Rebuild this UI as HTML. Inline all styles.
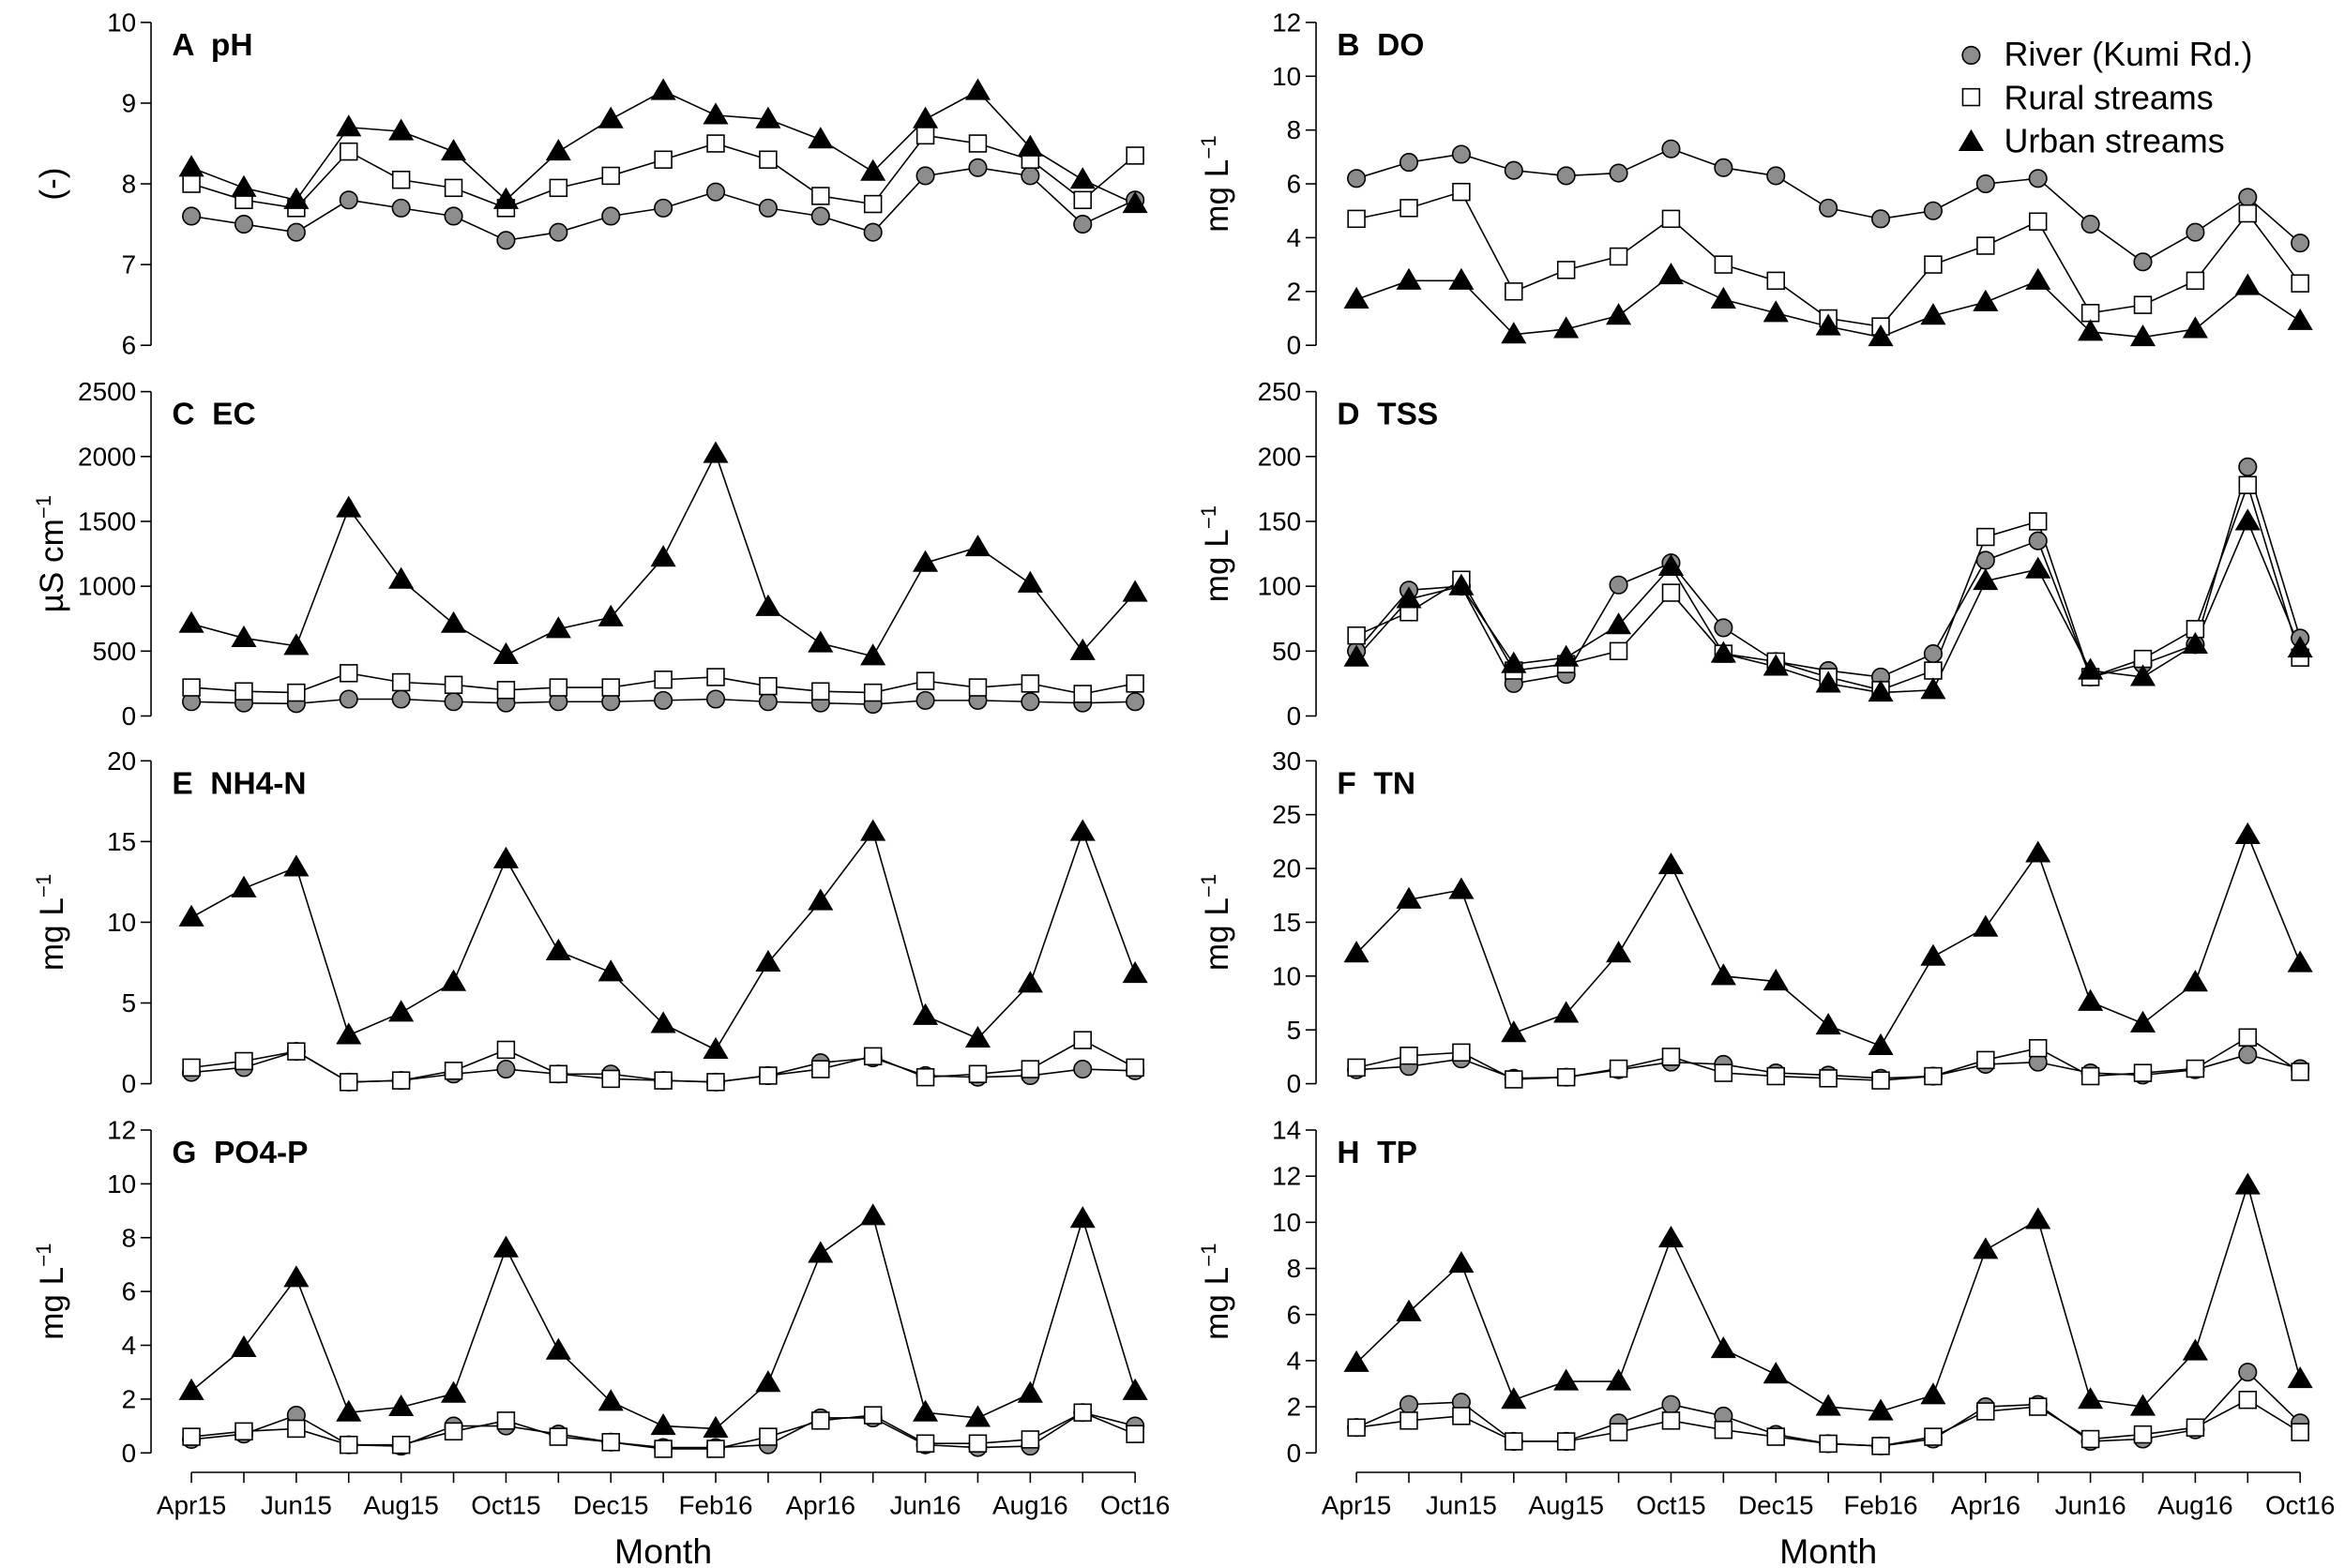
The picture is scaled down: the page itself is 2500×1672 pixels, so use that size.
<!DOCTYPE html>
<html><head><meta charset="utf-8">
<style>
html,body{margin:0;padding:0;background:#fff;}
svg{display:block;}
text{font-family:"Liberation Sans",Arial,sans-serif;fill:#000;}
</style></head>
<body>
<svg id="s" width="2500" height="1672" viewBox="0 0 1568 1049" preserveAspectRatio="none" xmlns="http://www.w3.org/2000/svg"></svg>
<script>
const S=document.getElementById('s');
let h='';
const P=[
 {lab:'A  pH',col:0,y0:231,y1:15,min:6,max:10,step:1,yt:'(-)',
  d:[[7.6,7.5,7.4,7.8,7.7,7.6,7.3,7.4,7.6,7.7,7.9,7.7,7.6,7.4,8.1,8.2,8.1,7.5,7.8],
     [8.0,7.8,7.7,8.4,8.05,7.95,7.7,7.95,8.1,8.3,8.5,8.3,7.85,7.75,8.6,8.5,8.3,7.8,8.35],
     [8.2,7.95,7.8,8.7,8.65,8.4,7.8,8.4,8.8,9.15,8.85,8.8,8.55,8.15,8.8,9.15,8.45,8.05,7.75]]},
 {lab:'B  DO',col:1,y0:231,y1:15,min:0,max:12,step:2,yt:'mg',
  d:[[6.2,6.8,7.1,6.5,6.3,6.4,7.3,6.6,6.3,5.1,4.7,5.0,6.0,6.2,4.5,3.1,4.2,5.5,3.8],
     [4.7,5.1,5.7,2.0,2.8,3.3,4.7,3.0,2.4,1.0,0.7,3.0,3.7,4.6,1.2,1.5,2.4,4.9,2.3],
     [1.7,2.4,2.4,0.4,0.6,1.1,2.6,1.7,1.2,0.7,0.3,1.1,1.6,2.4,0.5,0.3,0.6,2.2,0.9]]},
 {lab:'C  EC',col:0,y0:479,y1:262,min:0,max:2500,step:500,yt:'us',
  d:[[110,100,95,130,130,110,100,110,110,120,130,110,100,90,120,120,110,100,110],
     [220,190,180,330,260,240,200,220,220,280,300,230,190,180,270,220,250,170,250],
     [710,600,540,1600,1050,710,470,670,760,1220,2020,840,560,460,1180,1300,1020,500,950]]},
 {lab:'D  TSS',col:1,y0:479,y1:262,min:0,max:250,step:50,yt:'mg',
  d:[[50,97,100,25,32,101,118,68,42,35,30,48,120,135,30,40,55,192,60],
     [62,80,105,35,40,50,95,48,42,30,20,35,138,150,30,44,67,178,45],
     [45,90,100,40,45,70,115,48,38,25,18,20,104,113,35,30,55,150,52]]},
 {lab:'E  NH4-N',col:0,y0:725,y1:509,min:0,max:20,step:5,yt:'mg',
  d:[[0.7,1.0,2.0,0.1,0.2,0.6,0.9,0.6,0.6,0.2,0.1,0.5,1.3,1.6,0.5,0.4,0.5,0.9,0.8],
     [1.0,1.4,2.0,0.1,0.2,0.8,2.1,0.6,0.3,0.2,0.1,0.5,0.9,1.7,0.4,0.6,0.9,2.7,1.0],
     [10.3,12.1,13.4,3.0,4.4,6.3,13.9,8.2,6.9,3.7,2.1,7.5,11.3,15.6,4.2,2.8,6.2,15.6,6.8]]},
 {lab:'F  TN',col:1,y0:725,y1:509,min:0,max:30,step:5,yt:'mg',
  d:[[1.3,1.6,2.3,0.5,0.6,1.3,2.0,1.8,1.0,0.8,0.5,0.7,1.8,2.0,1.0,0.8,1.3,2.7,1.4],
     [1.5,2.6,2.9,0.4,0.6,1.4,2.5,1.0,0.7,0.5,0.3,0.7,2.2,3.3,0.7,1.0,1.4,4.3,1.1],
     [12.1,17.1,18.0,4.7,6.5,12.1,20.3,10.0,9.5,5.4,3.5,11.8,14.5,21.4,7.6,5.6,9.4,23.1,11.2]]},
 {lab:'G  PO4-P',col:0,y0:972,y1:756,min:0,max:12,step:2,yt:'mg',
  d:[[0.5,0.7,1.4,0.3,0.25,1.0,1.0,0.7,0.4,0.2,0.2,0.3,1.3,1.3,0.3,0.2,0.25,1.5,1.0],
     [0.6,0.8,0.9,0.3,0.3,0.8,1.2,0.6,0.4,0.15,0.15,0.6,1.2,1.4,0.35,0.35,0.5,1.5,0.7],
     [2.3,3.9,6.5,1.5,1.7,2.2,7.6,3.8,1.9,1.0,0.9,2.6,7.4,8.8,1.5,1.3,2.2,8.7,2.3]]},
 {lab:'H  TP',col:1,y0:972,y1:756,min:0,max:14,step:2,yt:'mg',
  d:[[1.1,2.1,2.2,0.5,0.5,1.3,2.1,1.6,0.8,0.4,0.3,0.6,2.0,2.1,0.5,0.6,1.0,3.5,1.3],
     [1.1,1.4,1.6,0.5,0.5,0.9,1.4,1.0,0.7,0.4,0.3,0.7,1.8,2.0,0.6,0.8,1.1,2.3,0.9],
     [3.9,6.1,8.2,2.3,3.1,3.1,9.3,4.5,3.4,2.0,1.8,2.5,8.8,10.1,2.3,2.0,4.4,11.6,3.2]]}
];
const XS=[128,907], AX=[101,880], STEP=(759-128)/18;
function marker(t,x,y){
 if(t==0) return `<circle cx="${x}" cy="${y}" r="5.8" fill="#8c8c8c" stroke="#000" stroke-width="1"/>`;
 if(t==1) return `<rect x="${x-5.6}" y="${y-5.6}" width="11.2" height="11.2" fill="#fff" stroke="#000" stroke-width="1"/>`;
 return `<polygon points="${x},${y-8.5} ${x-8.5},${y+6} ${x+8.5},${y+6}" fill="#000"/>`;
}
P.forEach(p=>{
 const ax=AX[p.col], x0=XS[p.col];
 const Y=v=>p.y0+(v-p.min)/(p.max-p.min)*(p.y1-p.y0);
 h+=`<line x1="${ax}" y1="${p.y0}" x2="${ax}" y2="${p.y1}" stroke="#000" stroke-width="1"/>`;
 for(let v=p.min;v<=p.max+1e-9;v+=p.step){
  const y=Y(v);
  h+=`<line x1="${ax-7}" y1="${y}" x2="${ax}" y2="${y}" stroke="#000" stroke-width="1"/>`;
  h+=`<text x="${ax-10}" y="${y+6}" font-size="17.5" text-anchor="end">${v}</text>`;
 }
 const tx=ax-59, ty=(p.y0+p.y1)/2;
 let tt;
 if(p.yt=='(-)') tt='(-)';
 else if(p.yt=='us') tt='µS cm<tspan dy="-8" font-size="14">−1</tspan>';
 else tt='mg L<tspan dy="-8" font-size="14">−1</tspan>';
 h+=`<text x="${tx}" y="${ty}" font-size="22" text-anchor="middle" transform="rotate(-90 ${tx} ${ty})">${tt}</text>`;
 h+=`<text x="${ax+14}" y="${p.y1+22}" font-size="21" font-weight="bold" xml:space="preserve">${p.lab}</text>`;
 [0,1,2].forEach(s=>{
  const pts=p.d[s].map((v,i)=>[x0+i*STEP,Y(v)]);
  h+=`<polyline points="${pts.map(q=>q.join(',')).join(' ')}" fill="none" stroke="#000" stroke-width="1"/>`;
 });
 [0,1,2].forEach(s=>{
  p.d[s].forEach((v,i)=>{h+=marker(s,x0+i*STEP,Y(v));});
 });
});
const labs=['Apr15','Jun15','Aug15','Oct15','Dec15','Feb16','Apr16','Jun16','Aug16','Oct16'];
[0,1].forEach(c=>{
 const x0=XS[c], ya=985;
 h+=`<line x1="${x0}" y1="${ya}" x2="${x0+18*STEP}" y2="${ya}" stroke="#000" stroke-width="1"/>`;
 for(let i=0;i<19;i++){
  const x=x0+i*STEP;
  h+=`<line x1="${x}" y1="${ya}" x2="${x}" y2="${ya+7}" stroke="#000" stroke-width="1"/>`;
  if(i%2==0) h+=`<text x="${x}" y="${ya+28}" font-size="17.5" text-anchor="middle">${labs[i/2]}</text>`;
 }
 h+=`<text x="${x0+9*STEP}" y="1046" font-size="23.5" text-anchor="middle">Month</text>`;
});
h+=marker(0,1318,37)+`<text x="1340" y="44" font-size="22.5">River (Kumi Rd.)</text>`;
h+=marker(1,1318,65)+`<text x="1340" y="73" font-size="22.5">Rural streams</text>`;
h+=marker(2,1318,95)+`<text x="1340" y="102" font-size="22.5">Urban streams</text>`;
S.innerHTML=h;
</script>
</body></html>
